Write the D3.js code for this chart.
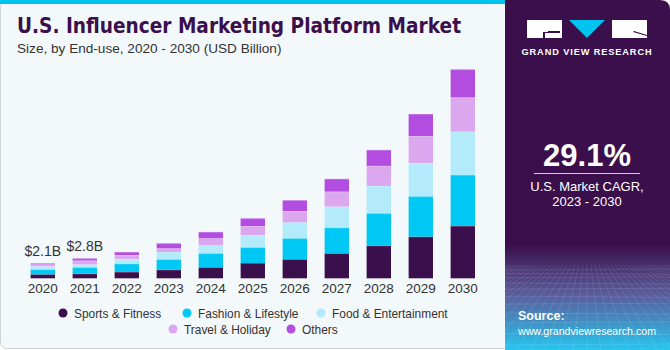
<!DOCTYPE html>
<html><head><meta charset="utf-8">
<script src="https://cdn.jsdelivr.net/npm/d3@7"></script>
<style>body{margin:0;background:#fff;}svg{display:block;font-family:"Liberation Sans",Arial,sans-serif;}</style>
</head><body><svg id="c" width="670" height="350"></svg>
<script>
const years = ["2020","2021","2022","2023","2024","2025","2026","2027","2028","2029","2030"];
const seriesNames = ["Sports & Fitness","Fashion & Lifestyle","Food & Entertainment","Travel & Holiday","Others"];
const sports  = [0.56,0.66,0.89,1.22,1.55,2.15,2.68,3.52,4.61,5.87,7.37];
const fashion = [0.70,0.89,1.17,1.45,1.97,2.21,2.96,3.62,4.55,5.68,7.18];
const food    = [0.42,0.40,0.66,1.03,1.13,1.73,2.25,2.96,3.85,4.69,6.10];
const travel  = [0.28,0.55,0.56,0.52,0.99,1.27,1.59,2.11,2.82,3.80,4.83];
const others  = [0.14,0.30,0.42,0.70,0.89,1.08,1.51,1.79,2.25,3.10,3.94];
const valueLabels = [{year:"2020",text:"$2.1B"},{year:"2021",text:"$2.8B"}];
const colors = ["#3b0f4b","#00c8f4","#b3ebfa","#dba7ef","#b34ddf"];

const svg = d3.select("#c");
const defs = svg.append("defs");

// card background
svg.append("rect").attr("x",0.5).attr("y",0.5).attr("width",520).attr("height",348).attr("rx",6)
  .attr("fill","#f3f8fb").attr("stroke","#cfd3d6");
svg.append("rect").attr("x",0).attr("y",0).attr("width",510).attr("height",4).attr("fill","#00c3ef");

// right panel
const g1 = defs.append("linearGradient").attr("id","pg").attr("x1",0).attr("y1",0).attr("x2",0).attr("y2",1);
g1.append("stop").attr("offset","0").attr("stop-color","#3b0f4b");
g1.append("stop").attr("offset","0.70").attr("stop-color","#3b0f4b");
g1.append("stop").attr("offset","0.84").attr("stop-color","#5a5b9a");
g1.append("stop").attr("offset","1").attr("stop-color","#27c6f0");
const clip = defs.append("clipPath").attr("id","pc");
clip.append("path").attr("d","M505,0 H660 Q670,0 670,10 V350 H505 Z");
svg.append("path").attr("d","M505,0 H660 Q670,0 670,10 V350 H505 Z").attr("fill","url(#pg)");
const grid = svg.append("g").attr("clip-path","url(#pc)").attr("stroke","#ffffff").attr("stroke-opacity",0.18).attr("stroke-width",0.6);
for(let i=0;i<14;i++){const yy=270+i*i*0.45+i*3; grid.append("line").attr("x1",505).attr("x2",670).attr("y1",yy).attr("y2",yy+((i%2)?1:-1));}
for(let i=-20;i<=20;i++){grid.append("line").attr("x1",587+i*4).attr("y1",265).attr("x2",587+i*14).attr("y2",350);}

// logo
const lg = svg.append("g");
lg.append("rect").attr("x",527).attr("y",20).attr("width",35).attr("height",18).attr("fill","#fff");
lg.append("path").attr("d","M543,32 H548 V31 H560 V33 H545 V38 H543 Z").attr("fill","#3b0f4b");
lg.append("path").attr("d","M569,20 H605 L587,38 Z").attr("fill","#00c3ef");
lg.append("rect").attr("x",612).attr("y",20).attr("width",35).attr("height",18).attr("fill","#fff");
lg.append("path").attr("d","M634,31 L647,35 V36 L633,32 Z").attr("fill","#3b0f4b");
svg.append("text").attr("x",587).attr("y",55).attr("text-anchor","middle").attr("fill","#fff")
  .attr("font-size",9.2).attr("font-weight","bold").attr("letter-spacing",0.9).text("GRAND VIEW RESEARCH");

svg.append("text").attr("x",587).attr("y",166).attr("text-anchor","middle").attr("fill","#fff")
  .attr("font-size",31).attr("font-weight","bold").text("29.1%");
svg.append("line").attr("x1",534).attr("x2",640).attr("y1",173.5).attr("y2",173.5).attr("stroke","#d6c8dc").attr("stroke-width",1);
svg.append("text").attr("x",587).attr("y",191).attr("text-anchor","middle").attr("fill","#fff").attr("font-size",13).text("U.S. Market CAGR,");
svg.append("text").attr("x",587).attr("y",206).attr("text-anchor","middle").attr("fill","#fff").attr("font-size",13).text("2023 - 2030");
svg.append("text").attr("x",518).attr("y",320).attr("fill","#fff").attr("font-size",12.5).attr("font-weight","bold").text("Source:");
svg.append("text").attr("x",518).attr("y",335).attr("fill","#fff").attr("font-size",11.5)
  .attr("textLength",138).attr("lengthAdjust","spacingAndGlyphs").text("www.grandviewresearch.com");

// title
svg.append("text").attr("x",17).attr("y",33).attr("fill","#3b0f4b").attr("font-size",21).attr("font-weight","900")
  .attr("font-family","'DejaVu Sans',sans-serif").attr("textLength",444).attr("lengthAdjust","spacingAndGlyphs")
  .text("U.S. Influencer Marketing Platform Market");
svg.append("text").attr("x",17).attr("y",53).attr("fill","#333").attr("font-size",13.6)
  .text("Size, by End-use, 2020 - 2030 (USD Billion)");

// chart
const x = d3.scaleBand().domain(years).range([21.8,483.8]).paddingInner(0.42).paddingOuter(0.21);
const y = d3.scaleLinear().domain([0,30]).range([278.3,278.3-213]);
const rows = years.map((yr,i)=>({year:yr,s0:sports[i],s1:fashion[i],s2:food[i],s3:travel[i],s4:others[i]}));
const stack = d3.stack().keys(["s0","s1","s2","s3","s4"])(rows);
const bars = svg.append("g");
stack.forEach((layer,k)=>{
  bars.selectAll(null).data(layer).enter().append("rect")
    .attr("x",d=>x(d.data.year)).attr("width",x.bandwidth())
    .attr("y",d=>y(d[1])).attr("height",d=>y(d[0])-y(d[1]))
    .attr("fill",colors[k]);
  bars.selectAll(null).data(layer).enter().append("rect")
    .attr("x",d=>x(d.data.year)).attr("width",x.bandwidth())
    .attr("y",d=>y(d[1])).attr("height",0.8)
    .attr("fill","#ffffff").attr("opacity",0.25);
});
const xAxis = d3.axisBottom(x).tickSize(0).tickPadding(0);
const ax = svg.append("g").attr("transform","translate(0,279)").call(xAxis);
ax.select(".domain").remove();
ax.selectAll("text").attr("font-size",13.5).attr("fill","#333").attr("dy","0").attr("y",14)
  .attr("font-family","'Liberation Sans',Arial,sans-serif");

const totals = years.map((yr,i)=>sports[i]+fashion[i]+food[i]+travel[i]+others[i]);
valueLabels.forEach(v=>{
  const i = years.indexOf(v.year);
  svg.append("text").attr("x",x(v.year)+x.bandwidth()/2).attr("y",y(totals[i])-7)
    .attr("text-anchor","middle").attr("fill","#333").attr("font-size",14).text(v.text);
});

// legend
const legendPos = [[63,313],[187,313],[321,313],[173,329],[291,329]];
seriesNames.forEach((n,k)=>{
  const [cx,cy] = legendPos[k];
  svg.append("circle").attr("cx",cx).attr("cy",cy).attr("r",4.5).attr("fill",colors[k]);
  svg.append("text").attr("x",cx+11).attr("y",cy+4.5).attr("fill","#333").attr("font-size",11.9).text(n);
});
</script></body></html>
